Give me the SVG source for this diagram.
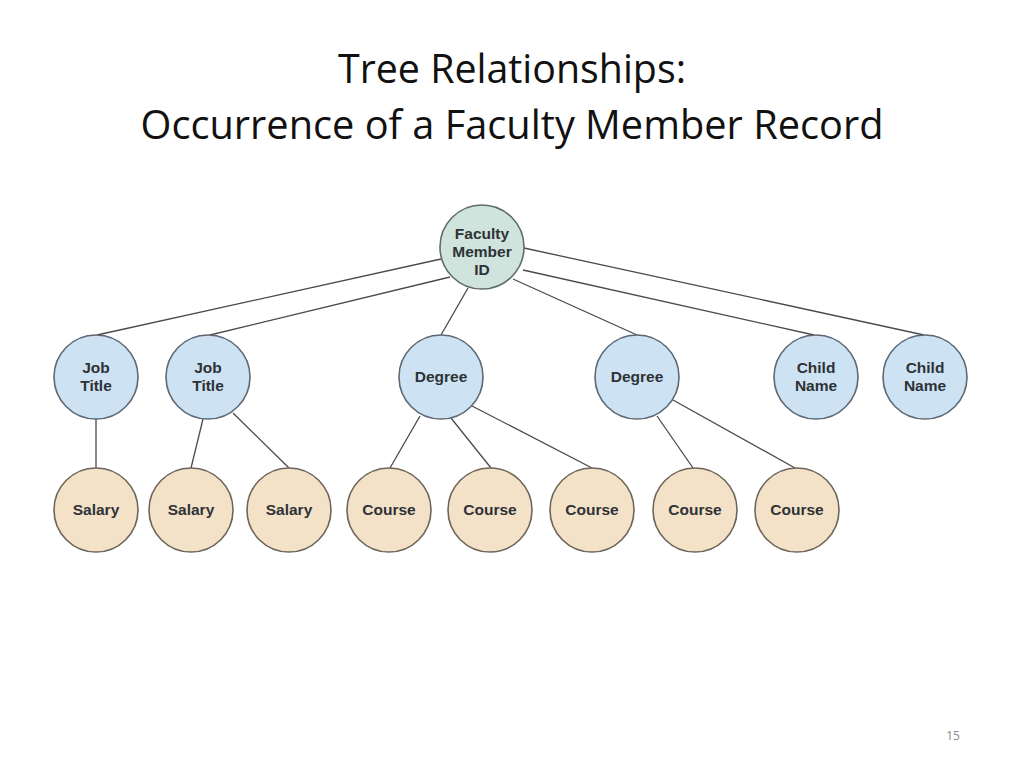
<svg xmlns="http://www.w3.org/2000/svg" width="1024" height="768" viewBox="0 0 1024 768">
<style>
.title{font-family:"Open Sans","Noto Sans","Liberation Sans",sans-serif;font-size:40px;fill:#111;text-anchor:middle}
.lbl{font-family:"Liberation Sans",Arial,sans-serif;font-weight:bold;font-size:15.5px;fill:#2e3236;text-anchor:middle}
.root{fill:#cee4dc;stroke:#5f6c68;stroke-width:1.6}
.mid{fill:#cde2f2;stroke:#5d6873;stroke-width:1.6}
.leaf{fill:#f4e2c8;stroke:#6d6559;stroke-width:1.6}
.edge{stroke:#4a4a4a;stroke-width:1.3;fill:none}
.pg{font-family:"Open Sans","Liberation Sans",sans-serif;font-size:12px;fill:#8a8a8a;text-anchor:middle}
</style>
<rect width="1024" height="768" fill="#fff"/>
<text class="title" x="512" y="83" textLength="348" lengthAdjust="spacingAndGlyphs">Tree Relationships:</text>
<text class="title" x="512" y="139" textLength="743" lengthAdjust="spacingAndGlyphs">Occurrence of a Faculty Member Record</text>
<g id="connectors">
<line class="edge" x1="441" y1="259" x2="97" y2="335"/>
<line class="edge" x1="450" y1="277" x2="210" y2="335"/>
<line class="edge" x1="468" y1="288" x2="441" y2="335"/>
<line class="edge" x1="513" y1="279" x2="637" y2="335"/>
<line class="edge" x1="523" y1="270" x2="814" y2="335"/>
<line class="edge" x1="524" y1="248" x2="924" y2="335"/>
<line class="edge" x1="96" y1="419" x2="96" y2="468"/>
<line class="edge" x1="203" y1="419" x2="191" y2="468"/>
<line class="edge" x1="233" y1="413" x2="289" y2="468"/>
<line class="edge" x1="420" y1="416" x2="390" y2="468"/>
<line class="edge" x1="451" y1="418" x2="491" y2="468"/>
<line class="edge" x1="472" y1="406" x2="592" y2="468"/>
<line class="edge" x1="657" y1="416" x2="693" y2="468"/>
<line class="edge" x1="673" y1="400" x2="795" y2="468"/>
</g>
<g id="root"><circle class="root" cx="482" cy="247" r="42"/><text class="lbl" x="482" y="238.5">Faculty</text><text class="lbl" x="482" y="256.5">Member</text><text class="lbl" x="482" y="274.5">ID</text></g>
<g id="job1"><circle class="mid" cx="96" cy="377" r="42"/><text class="lbl" x="96" y="373">Job</text><text class="lbl" x="96" y="391">Title</text></g>
<g id="job2"><circle class="mid" cx="208" cy="377" r="42"/><text class="lbl" x="208" y="373">Job</text><text class="lbl" x="208" y="391">Title</text></g>
<g id="degree1"><circle class="mid" cx="441" cy="377" r="42"/><text class="lbl" x="441" y="382">Degree</text></g>
<g id="degree2"><circle class="mid" cx="637" cy="377" r="42"/><text class="lbl" x="637" y="382">Degree</text></g>
<g id="child1"><circle class="mid" cx="816" cy="377" r="42"/><text class="lbl" x="816" y="373">Child</text><text class="lbl" x="816" y="391">Name</text></g>
<g id="child2"><circle class="mid" cx="925" cy="377" r="42"/><text class="lbl" x="925" y="373">Child</text><text class="lbl" x="925" y="391">Name</text></g>
<g id="salary1"><circle class="leaf" cx="96" cy="510" r="42"/><text class="lbl" x="96" y="515">Salary</text></g>
<g id="salary2"><circle class="leaf" cx="191" cy="510" r="42"/><text class="lbl" x="191" y="515">Salary</text></g>
<g id="salary3"><circle class="leaf" cx="289" cy="510" r="42"/><text class="lbl" x="289" y="515">Salary</text></g>
<g id="course1"><circle class="leaf" cx="389" cy="510" r="42"/><text class="lbl" x="389" y="515">Course</text></g>
<g id="course2"><circle class="leaf" cx="490" cy="510" r="42"/><text class="lbl" x="490" y="515">Course</text></g>
<g id="course3"><circle class="leaf" cx="592" cy="510" r="42"/><text class="lbl" x="592" y="515">Course</text></g>
<g id="course4"><circle class="leaf" cx="695" cy="510" r="42"/><text class="lbl" x="695" y="515">Course</text></g>
<g id="course5"><circle class="leaf" cx="797" cy="510" r="42"/><text class="lbl" x="797" y="515">Course</text></g>
<text class="pg" x="953" y="740">15</text>
</svg>
